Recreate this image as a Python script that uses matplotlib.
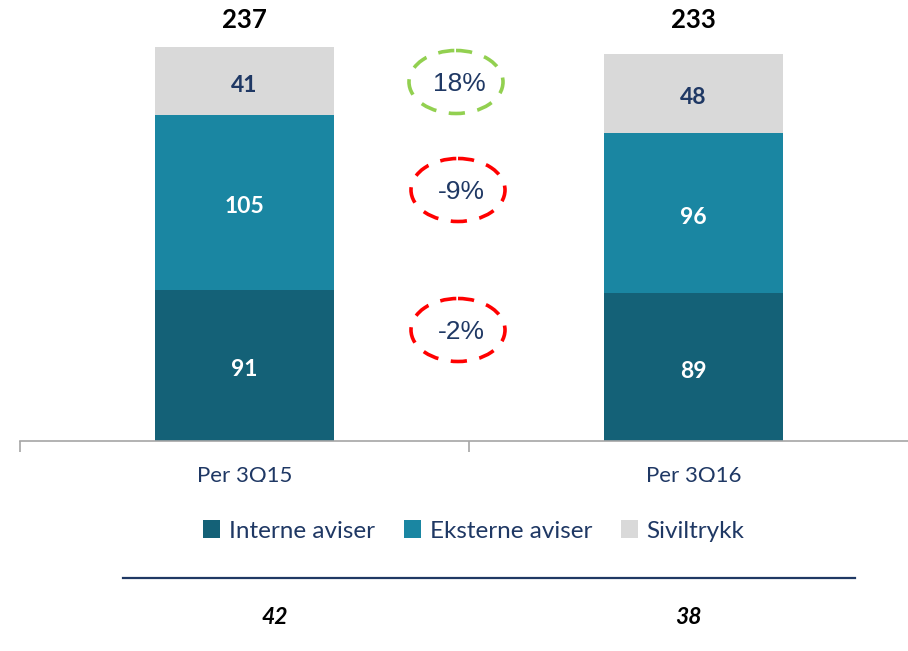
import matplotlib
matplotlib.use("Agg")
import matplotlib.pyplot as plt
from matplotlib.patches import Ellipse
from matplotlib.transforms import Bbox
import numpy as np

categories = ["Per 3Q15", "Per 3Q16"]
interne = [91, 89]
eksterne = [105, 96]
siviltrykk = [41, 48]
totals = [237, 233]
changes = ["-2%", "-9%", "18%"]
change_colors = ["#FF0000", "#FF0000", "#92D050"]
bottom_values = ["42", "38"]
series_names = ["Interne aviser", "Eksterne aviser", "Siviltrykk"]

c_dark = "#146177"
c_mid = "#1A86A2"
c_gray = "#D9D9D9"
navy = "#1F3864"

plt.rcParams['font.family'] = ['Lato', 'DejaVu Sans']

W, H = 908, 651
fig = plt.figure(figsize=(W / 100, H / 100), dpi=100)

px_per_unit = 394 / 237.0
ax = fig.add_axes([20 / W, (H - 441) / H, 888 / W, 441 / H])
x = np.arange(len(categories))

bw = 0.4
b1 = ax.bar(x, interne, bw, color=c_dark, label=series_names[0])
b2 = ax.bar(x, eksterne, bw, bottom=interne, color=c_mid, label=series_names[1])
bot3 = np.array(interne) + np.array(eksterne)
b3 = ax.bar(x, siviltrykk, bw, bottom=bot3, color=c_gray, label=series_names[2])

off = -2.4  # labels sit slightly below segment centre in the reference
for i in range(len(categories)):
    ax.text(x[i], interne[i] / 2 + off, str(interne[i]), ha='center', va='center',
            color='white', fontsize=16.5, fontweight='bold')
    ax.text(x[i], interne[i] + eksterne[i] / 2 + off, str(eksterne[i]), ha='center',
            va='center', color='white', fontsize=16.5, fontweight='bold')
    ax.text(x[i], bot3[i] + siviltrykk[i] / 2 + off, str(siviltrykk[i]), ha='center',
            va='center', color=navy, fontsize=16.5, fontweight='bold')

for i, t in enumerate(totals):
    ax.text(x[i], 253.5, str(t), ha='center', va='center', color='black',
            fontsize=18.5, fontweight='bold', clip_on=False)

for s in ['top', 'right', 'left']:
    ax.spines[s].set_visible(False)
ax.spines['bottom'].set_color('#A6A6A6')
ax.spines['bottom'].set_linewidth(1.2)
ax.set_yticks([])
ax.set_xticks([])
ax.set_xticks([-0.5, 0.5, 1.5], minor=True)
ax.tick_params(axis='x', which='minor', length=8, color='#A6A6A6', width=1.2, direction='out')
ax.set_xlim(-0.5, -0.5 + 888 / 449)
ax.set_ylim(0, 441 / px_per_unit)

# overlay in pixel coords
ov = fig.add_axes([0, 0, 1, 1], zorder=5)
ov.set_xlim(0, W)
ov.set_ylim(H, 0)
ov.axis('off')
ov.patch.set_alpha(0)

# category labels (clipped at bottom like the reference)
clip = Bbox.from_extents(0, H - 482, W, H - 445)
for xc, lab in zip([244.5, 693.5], categories):
    t = ov.text(xc, 476, lab, ha='center', va='center', color=navy, fontsize=16)
    t.set_clip_box(clip)
    t.set_clip_on(True)

# change ellipses
ell_centers = [(458, 330), (458, 190), (456, 82)]
for (cx, cy), lab, col in zip(ell_centers, changes, change_colors):
    e = Ellipse((cx, cy), 94, 63, fill=False, edgecolor=col, linewidth=2.6,
                linestyle=(0, (4.5, 3.5)))
    ov.add_patch(e)
    ov.text(cx + 3, cy + 2, lab, ha='center', va='center', color=navy, fontsize=19,
            family='Liberation Sans')

# legend
leg = fig.legend(handles=[b1, b2, b3], labels=series_names, loc='center',
                 bbox_to_anchor=(474 / W, 1 - 531 / H), ncol=3, frameon=False,
                 fontsize=17.5, handlelength=0.7, handleheight=0.7,
                 handletextpad=0.35, columnspacing=1.2)
for t in leg.get_texts():
    t.set_color(navy)

# separator line and bottom values
ov.plot([123, 855], [578, 578], color=navy, linewidth=1.6)
for xc, v in zip([275, 688], bottom_values):
    ov.text(xc, 617, v, ha='center', va='center', color='black', fontsize=16.5,
            fontweight='bold', fontstyle='italic')

fig.savefig("out.png", dpi=100)
